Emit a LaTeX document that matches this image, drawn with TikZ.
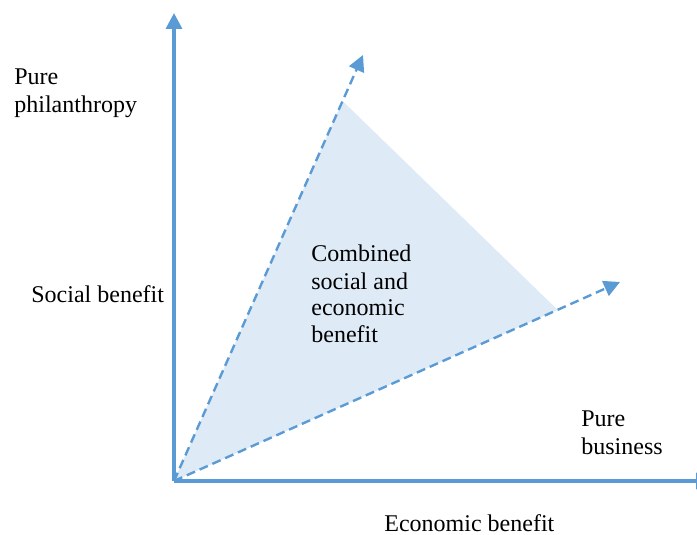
\documentclass[tikz,border=0pt]{standalone}
\usepackage{fontspec}
\setmainfont{Liberation Serif}
\usetikzlibrary{arrows.meta,calc}
\definecolor{axisblue}{HTML}{5B9BD5}
\definecolor{zonefill}{HTML}{DEEAF6}
\begin{document}
\begin{tikzpicture}[x=0.5pt,y=-0.5pt,
  axisline/.style={draw=axisblue,line width=1.7pt,-{Triangle[length=8pt,width=8pt]}},
  rayline/.style={draw=axisblue,line width=1.2pt,dash pattern=on 4.5pt off 2.5pt,-{Triangle[length=8pt,width=8pt]}},
  txt/.style={font=\fontsize{12}{14}\selectfont,inner sep=0pt,align=left,anchor=base west}]
\useasboundingbox (0,0) rectangle (697,535);
\clip (0,0) rectangle (697,535);
% axes and ray end points
\coordinate (O) at (174,481);
\coordinate (Ytip) at (174,13);
\coordinate (Xtip) at (712,481);
\coordinate (Ptip) at (363,55);
\coordinate (Btip) at (620,282);
% corners of the shaded zone, on the two rays
\coordinate (Ptop) at ($(O)!0.892!(Ptip)$);
\coordinate (Bcorner) at ($(O)!0.86!(Btip)$);
\fill[zonefill] (O) -- (Ptop) -- (Bcorner) -- cycle;
\draw[rayline] (O) -- (Ptip);
\draw[rayline] (O) -- (Btip);
\draw[axisline] (O) -- (Ytip);
\draw[axisline] (O) -- (Xtip);
% labels (base anchor sits on the last line)
\node[txt] (phil) at (14,113) {Pure\\philanthropy};
\node[txt] (social) at (31,302) {Social benefit};
\node[txt,font=\fontsize{12}{13.5}\selectfont] (comb) at (311,343) {Combined\\social and\\economic\\benefit};
\node[txt] (biz) at (581,454) {Pure\\business};
\node[txt] (econ) at (384,531) {Economic benefit};
\end{tikzpicture}
\end{document}
